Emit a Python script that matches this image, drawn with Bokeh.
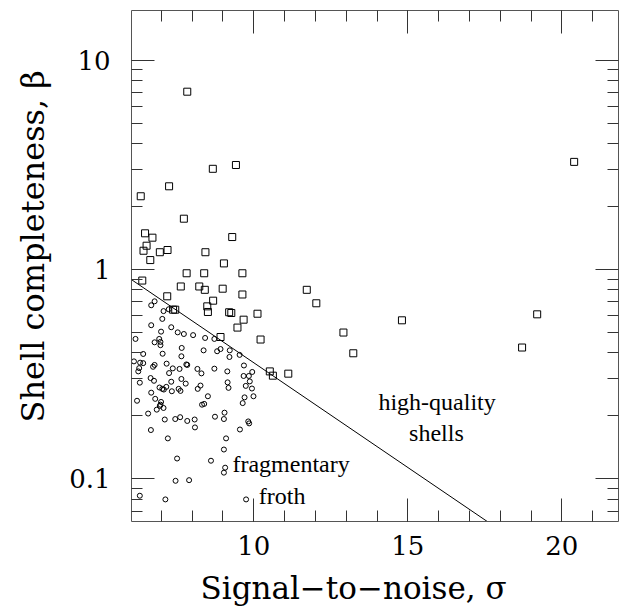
from bokeh.plotting import figure
from bokeh.models import Range1d, FixedTicker, LinearAxis, LogAxis, Label, Title, CustomJSTickFormatter
from bokeh.embed import file_html
from bokeh.resources import INLINE

# squares: shells above the threshold (signal-to-noise, completeness)
sq_sigma = [7.84, 8.67, 9.42, 7.25, 6.33, 7.73, 6.47, 6.71, 9.30, 6.52, 6.42, 6.95, 7.20, 8.43,
            6.64, 9.03, 7.82, 8.39, 9.63, 6.38, 7.63, 8.23, 8.41, 8.99, 11.72, 7.19, 8.68, 9.63,
            12.03, 7.38, 7.45, 8.49, 8.51, 9.20, 9.27, 10.12, 9.67, 9.47, 8.92, 10.22, 12.91,
            13.23, 10.52, 10.62, 11.12, 20.40, 14.81, 19.20, 18.71]
sq_beta = [7.08, 3.03, 3.16, 2.50, 2.24, 1.75, 1.49, 1.42, 1.43, 1.30, 1.23, 1.21, 1.24, 1.21,
           1.11, 1.07, 0.96, 0.96, 0.96, 0.886, 0.83, 0.83, 0.80, 0.81, 0.80, 0.745, 0.71, 0.76,
           0.69, 0.643, 0.643, 0.667, 0.627, 0.625, 0.62, 0.615, 0.576, 0.528, 0.476, 0.463, 0.50,
           0.398, 0.326, 0.311, 0.318, 3.27, 0.572, 0.611, 0.424]

# circles: fragmentary froth
ci_sigma = [6.67, 6.78, 7.07, 7.24, 7.03, 6.67, 7.32, 6.99, 7.53, 7.73, 8.03, 8.42, 8.72, 6.16,
            6.93, 6.97, 6.97, 6.78, 7.66, 7.04, 6.41, 8.37, 8.81, 8.92, 9.22, 9.21, 9.54, 6.11,
            6.31, 6.41, 6.28, 6.25, 6.73, 6.78, 7.17, 7.37, 7.59, 7.81, 7.84, 8.17, 8.72, 9.68,
            7.25, 6.65, 6.76, 7.32, 7.65, 7.79, 8.30, 9.14, 9.67, 9.84, 9.95, 6.30, 7.16, 6.94,
            7.03, 7.08, 6.67, 7.34, 7.56, 7.62, 8.18, 9.15, 9.18, 9.74, 9.87, 6.21, 6.80, 6.99,
            6.97, 6.95, 7.07, 6.85, 8.51, 8.32, 8.39, 9.70, 9.64, 9.99, 6.57, 7.11, 7.45, 7.61,
            7.84, 8.08, 8.09, 8.74, 9.05, 9.03, 9.82, 9.85, 9.55, 6.66, 7.21, 9.10, 9.03, 7.51,
            8.61, 9.07, 9.03, 7.46, 7.90, 6.30, 7.13, 9.75, 9.94, 8.27, 7.65]
ci_beta = [0.675, 0.705, 0.633, 0.646, 0.581, 0.542, 0.530, 0.505, 0.501, 0.492, 0.486, 0.471,
           0.466, 0.466, 0.466, 0.451, 0.435, 0.449, 0.422, 0.396, 0.395, 0.411, 0.407, 0.417,
           0.411, 0.382, 0.391, 0.364, 0.359, 0.357, 0.338, 0.326, 0.343, 0.350, 0.355, 0.337,
           0.335, 0.352, 0.350, 0.335, 0.336, 0.348, 0.320, 0.303, 0.294, 0.291, 0.300, 0.285,
           0.319, 0.326, 0.310, 0.310, 0.324, 0.288, 0.275, 0.273, 0.269, 0.267, 0.258, 0.262,
           0.269, 0.263, 0.269, 0.289, 0.272, 0.278, 0.292, 0.236, 0.241, 0.233, 0.226, 0.223,
           0.218, 0.214, 0.248, 0.226, 0.228, 0.245, 0.230, 0.248, 0.205, 0.192, 0.193, 0.197,
           0.189, 0.192, 0.176, 0.198, 0.207, 0.193, 0.188, 0.184, 0.172, 0.171, 0.156, 0.156,
           0.138, 0.125, 0.122, 0.113, 0.107, 0.0978, 0.0985, 0.0830, 0.0797, 0.0797, 0.270,
           0.279, 0.385]

# dividing line
line_sigma = [6.03, 17.58]
line_beta = [0.895, 0.0625]

x_major = [10, 15, 20]
x_minor = list(range(6, 23))
y_major = [0.1, 1, 10]
y_minor = [0.07, 0.08, 0.09, 0.2, 0.3, 0.4, 0.5, 0.6, 0.7, 0.8, 0.9,
           2, 3, 4, 5, 6, 7, 8, 9]

x_title = "Signal\u2212to\u2212noise, \u03c3"
y_title = "Shell completeness, \u03b2"

p = figure(frame_width=487, frame_height=511,
           x_range=Range1d(6.03, 21.84), y_range=Range1d(0.0625, 17.3),
           y_axis_type="log", output_backend="svg", toolbar_location=None,
           min_border_left=131, min_border_top=10, min_border_bottom=93, min_border_right=1)
p.grid.visible = False
p.outline_line_color = None
p.background_fill_color = "white"
p.border_fill_color = "white"

bottom_ax = p.below[0]
left_ax = p.left[0]
top_ax = LinearAxis()
right_ax = LogAxis()
p.add_layout(top_ax, "above")
p.add_layout(right_ax, "right")

FONT = "DejaVu Serif"

def style(ax, ticks, minor, show):
    ax.ticker = FixedTicker(ticks=ticks, minor_ticks=minor)
    ax.major_tick_in = 23
    ax.major_tick_out = 0
    ax.minor_tick_in = 11
    ax.minor_tick_out = 0
    ax.axis_line_color = "#555555"
    ax.major_tick_line_color = "#333333"
    ax.minor_tick_line_color = "#333333"
    ax.axis_label = None
    if show:
        ax.major_label_text_font = FONT
        ax.major_label_text_font_size = "26px"
        ax.major_label_text_color = "black"
    else:
        ax.formatter = CustomJSTickFormatter(code="return ''")
        ax.major_label_text_font_size = "1px"
        ax.major_label_standoff = 0

style(bottom_ax, x_major, x_minor, True)
style(left_ax, y_major, y_minor, True)
style(top_ax, x_major, x_minor, False)
style(right_ax, y_major, y_minor, False)
bottom_ax.major_label_standoff = 14
left_ax.major_label_standoff = 21
left_ax.formatter = CustomJSTickFormatter(code="return tick.toString()")

p.line(line_sigma, line_beta, line_color="black", line_width=1)
p.scatter(sq_sigma, sq_beta, marker="square", size=7, fill_color=None,
          line_color="black", line_width=1)
p.scatter(ci_sigma, ci_beta, marker="circle", size=5, fill_color=None,
          line_color="black", line_width=1)

# axis titles
p.add_layout(Title(text=x_title, text_font=FONT, text_font_size="31px",
                   text_font_style="normal", align="left", offset=69,
                   vertical_align="middle", standoff=22, text_color="black"), "below")
p.add_layout(Title(text=y_title, text_font=FONT, text_font_size="32px",
                   text_font_style="normal", align="left", offset=99,
                   vertical_align="top", standoff=26, text_color="black"), "left")

ANN_FONT = "Liberation Serif"
for txt, xs, yb in [("high-quality", 15.95, 0.232), ("shells", 15.93, 0.166),
                    ("fragmentary", 11.21, 0.118), ("froth", 10.92, 0.0832)]:
    p.add_layout(Label(x=xs, y=yb, text=txt, text_font=ANN_FONT, text_font_size="24px",
                       text_align="center", text_baseline="alphabetic", text_color="black"))

open("out.html", "w").write(file_html(p, INLINE))
